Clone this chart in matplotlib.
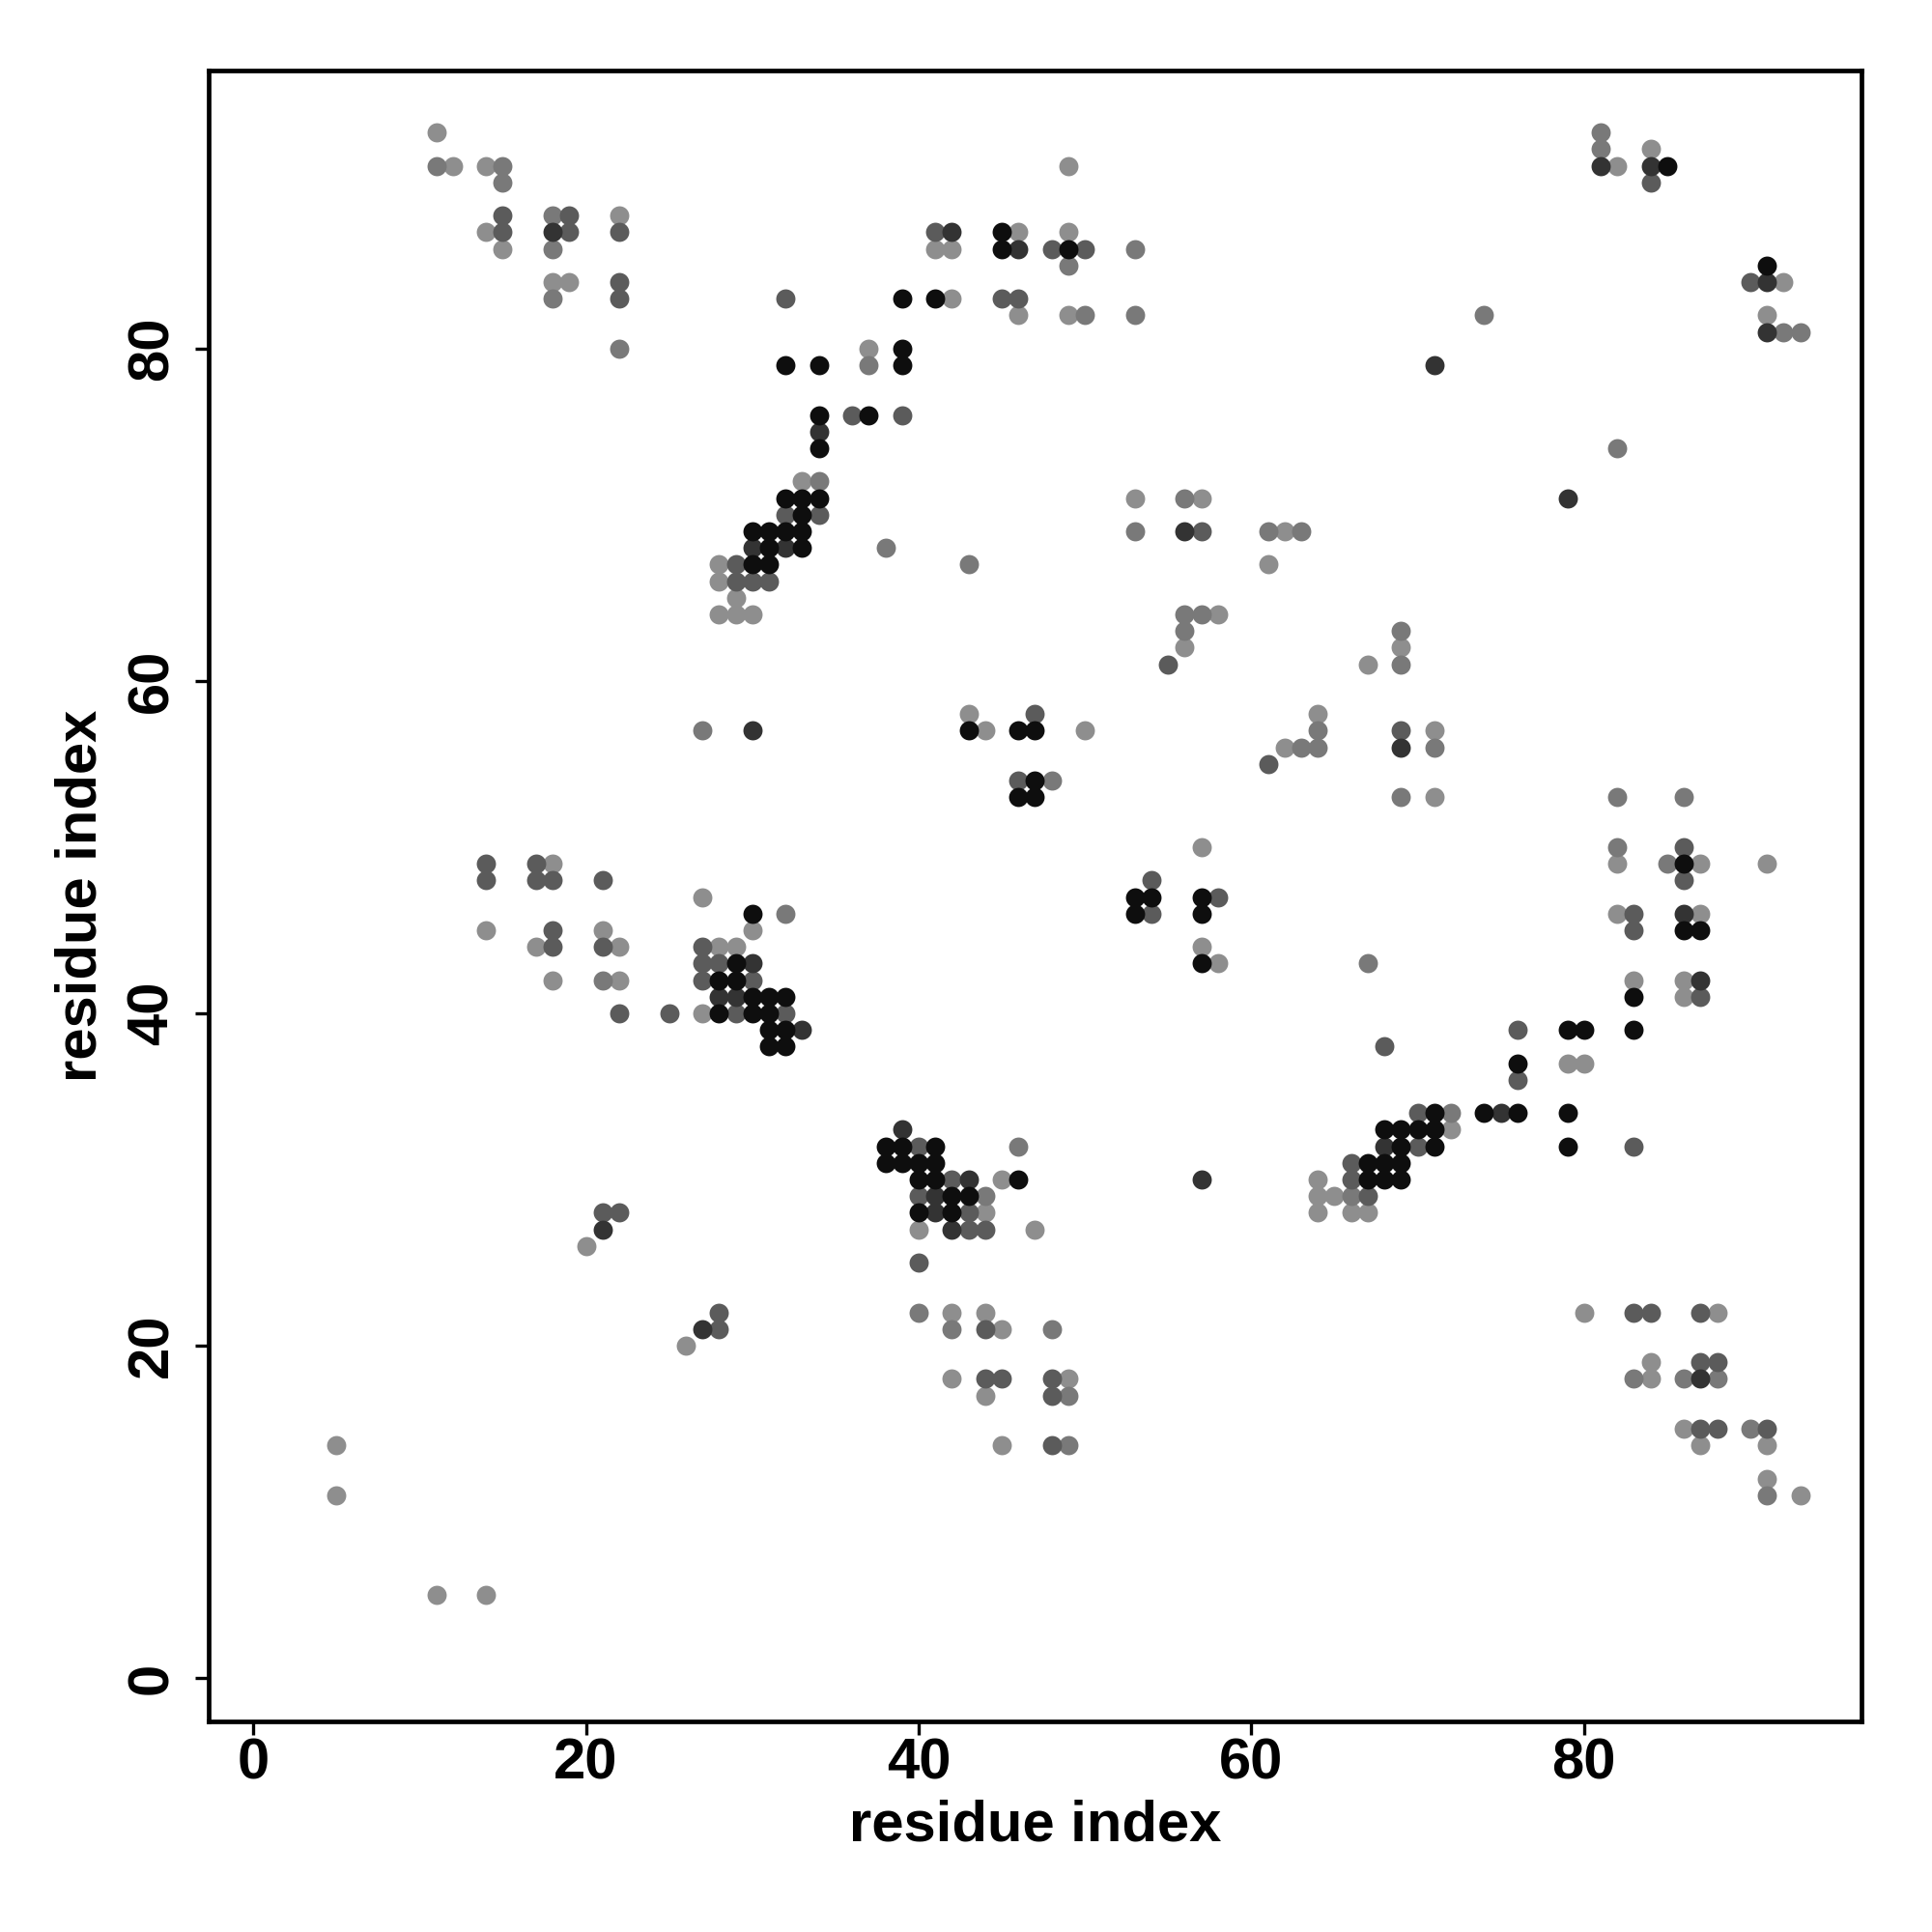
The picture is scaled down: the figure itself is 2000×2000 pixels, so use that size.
import matplotlib
matplotlib.use("Agg")
import matplotlib.pyplot as plt

# contact map: (residue i, residue j) grouped by grey level, lightest -> darkest
lev_a_x = [11, 12, 14, 14, 15, 22, 18, 19, 46, 41, 42, 49, 42, 46, 49, 37, 28, 28, 29, 28, 29, 30, 33,
           49, 53, 57, 62, 61, 58, 82, 84, 92, 91, 18, 14, 17, 21, 22, 18, 22, 43, 44, 27, 30, 28, 29, 27,
           56, 67, 69, 50, 64, 62, 71, 71, 57, 57, 58, 72, 82, 87, 91, 82, 87, 83, 86, 86, 79, 80,
           20, 26, 5, 5, 11, 14, 45, 44, 40, 47, 42, 44, 45, 42, 49, 44, 45, 64, 64, 65, 64, 66, 67,
           80, 88, 84, 84, 86, 87, 91, 91, 93]
lev_a_y = [93, 91, 91, 87, 86, 88, 84, 84, 87, 86, 86, 87, 83, 82, 82, 80, 67, 66, 65, 64, 64, 64, 72,
           91, 71, 71, 69, 67, 64, 91, 92, 84, 82, 49, 45, 44, 45, 44, 42, 42, 58, 57, 47, 45, 44, 44, 40,
           62, 61, 62, 57, 58, 56, 57, 53, 50, 44, 43, 33, 49, 49, 49, 46, 46, 42, 42, 41, 37, 37,
           26, 20, 14, 11, 5, 5, 30, 28, 27, 27, 22, 22, 21, 18, 18, 17, 14, 30, 29, 29, 28, 28, 28,
           22, 22, 19, 18, 15, 14, 14, 12, 11]

lev_b_x = [11, 15, 18, 18, 18, 22, 15, 49, 37, 34, 38, 43, 53, 50, 53, 56, 53, 61, 63, 56, 57, 56, 69,
           81, 81, 92, 93, 74, 82, 21, 27, 48, 32, 69, 64, 64, 63, 71, 69, 67, 72, 82, 86, 82, 85,
           46, 44, 40, 42, 48, 49, 49, 66, 83, 86, 88, 90, 91]
lev_b_y = [91, 90, 88, 86, 83, 80, 91, 85, 79, 72, 68, 67, 86, 82, 82, 71, 69, 69, 69, 64, 64, 63, 63,
           93, 92, 81, 81, 82, 74, 42, 57, 54, 46, 61, 57, 56, 56, 56, 53, 43, 34, 53, 53, 50, 49,
           32, 29, 22, 21, 21, 17, 14, 29, 18, 18, 18, 15, 11]

lev_c_x = [15, 15, 19, 19, 22, 22, 22, 41, 48, 50, 32, 45, 46, 36, 39, 32, 34, 29, 29, 30, 31, 57,
           84, 90, 14, 14, 17, 17, 18, 21, 18, 18, 21, 22, 25, 47, 46, 27, 27, 28, 27, 30, 29, 32,
           55, 61, 69, 54, 54, 58, 68, 70, 70, 66, 86, 86, 83, 83, 87, 76, 76, 83, 21, 22,
           40, 43, 43, 44, 40, 28, 28, 44, 44, 45, 48, 48, 48, 42, 40, 66, 67,
           83, 84, 87, 87, 88, 87, 88, 91]
lev_c_y = [88, 87, 88, 87, 87, 84, 83, 87, 86, 86, 83, 83, 83, 76, 76, 70, 70, 67, 66, 66, 66, 69,
           90, 84, 49, 48, 49, 48, 48, 48, 45, 44, 44, 40, 40, 58, 54, 44, 43, 43, 42, 42, 40, 40,
           61, 55, 57, 48, 46, 47, 38, 34, 32, 31, 50, 48, 46, 45, 41, 39, 36, 32, 28, 28,
           32, 28, 27, 27, 25, 22, 21, 21, 18, 18, 18, 17, 14, 30, 29, 30, 29,
           22, 22, 22, 19, 19, 15, 15, 15]

lev_d_x = [18, 42, 46, 34, 30, 32, 56, 71, 81, 84, 91, 91, 79, 30, 30, 28, 29, 33, 69, 68, 75,
           86, 87, 21, 39, 43, 41, 41, 42, 27, 57, 87]
lev_d_y = [87, 87, 86, 75, 68, 68, 69, 79, 91, 91, 84, 81, 71, 57, 43, 41, 41, 39, 56, 32, 34,
           46, 42, 27, 33, 30, 29, 28, 27, 21, 30, 18]

lev_e_x = [45, 45, 49, 39, 41, 39, 39, 32, 34, 34, 37, 34, 32, 33, 34, 33, 30, 31, 32, 33, 31, 33, 30, 31,
           85, 91, 43, 46, 47, 47, 46, 47, 30, 29, 28, 29, 30, 31, 32, 28, 30, 31, 31, 32, 31, 32,
           53, 54, 53, 57, 57, 57, 71, 68, 69, 70, 71, 69, 71, 67, 68, 69,
           86, 86, 87, 83, 79, 80, 83, 76, 74, 76, 79, 79,
           38, 39, 41, 38, 39, 40, 41, 40, 41, 46, 42, 43, 40, 42, 67, 69, 68]
lev_e_y = [87, 86, 86, 83, 83, 80, 79, 79, 79, 76, 76, 74, 71, 71, 71, 70, 69, 69, 69, 69, 68, 68, 67, 67,
           91, 85, 57, 57, 57, 54, 53, 53, 46, 43, 42, 42, 41, 41, 41, 40, 40, 40, 39, 39, 38, 38,
           47, 47, 46, 47, 46, 43, 34, 33, 33, 33, 33, 32, 32, 31, 31, 31,
           49, 45, 45, 41, 39, 39, 39, 37, 34, 34, 34, 32,
           32, 32, 32, 31, 31, 31, 31, 30, 30, 30, 29, 29, 28, 28, 30, 30, 30]

levels = [
    (lev_a_x, lev_a_y, "#8e8e8e"),
    (lev_b_x, lev_b_y, "#797979"),
    (lev_c_x, lev_c_y, "#5b5b5b"),
    (lev_d_x, lev_d_y, "#333333"),
    (lev_e_x, lev_e_y, "#0e0e0e"),
]

plt.rcParams["font.family"] = ["Liberation Sans", "DejaVu Sans"]
plt.rcParams["font.weight"] = "bold"

fig = plt.figure(figsize=(20, 20), dpi=100)
ax = fig.add_axes([0.108, 0.109, 0.8555, 0.8547])

for xs, ys, col in levels:
    ax.scatter(xs, ys, s=205, c=col, linewidths=0, zorder=3)

ax.set_xlim(-2.68, 96.68)
ax.set_ylim(-2.62, 96.76)
ax.set_xticks([0, 20, 40, 60, 80])
ax.set_yticks([0, 20, 40, 60, 80])
ax.tick_params(axis="both", direction="out", length=10, width=2.4, labelsize=43, colors="black")
ax.tick_params(axis="x", pad=2)
ax.tick_params(axis="y", pad=12)
for lab in ax.get_yticklabels():
    lab.set_rotation(90)
    lab.set_va("center")
for lab in ax.get_xticklabels() + ax.get_yticklabels():
    lab.set_fontweight("bold")
for sp in ax.spines.values():
    sp.set_linewidth(3.4)

ax.set_xlabel("residue index", fontsize=43, fontweight="bold", labelpad=6)
ax.set_ylabel("residue index", fontsize=43, fontweight="bold", labelpad=14)

fig.savefig("out.png", dpi=100, facecolor="white")
